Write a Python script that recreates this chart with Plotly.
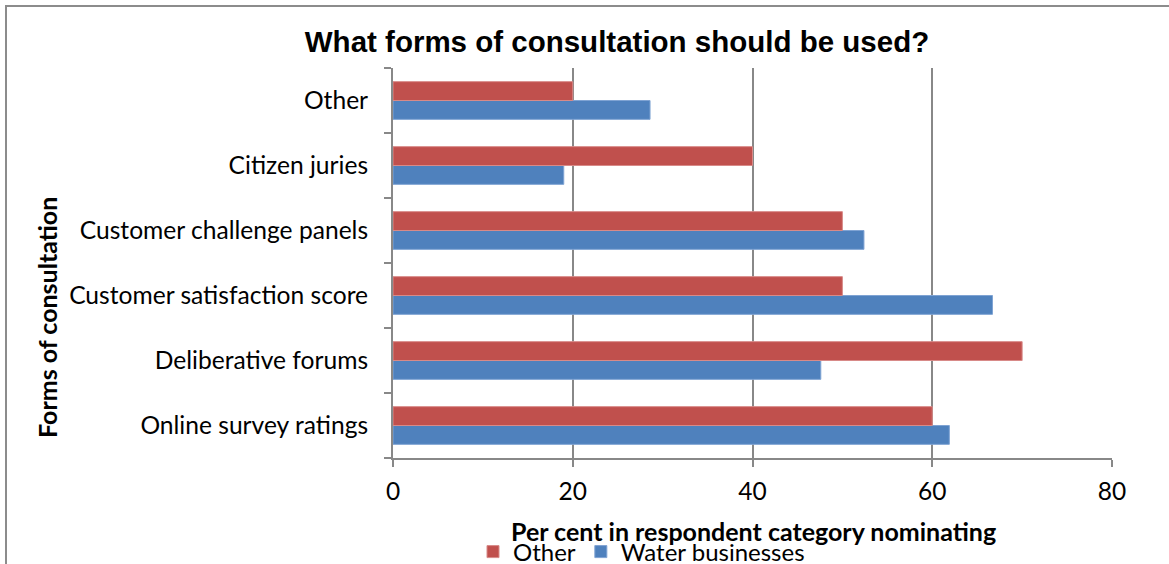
import plotly.graph_objects as go

# Consultation forms, listed bottom to top on the category axis
forms = [
    "Online survey ratings",
    "Deliberative forums",
    "Customer satisfaction score",
    "Customer challenge panels",
    "Citizen juries",
    "Other",
]
water_businesses = [61.9, 47.6, 66.7, 52.4, 19.0, 28.6]
other_respondents = [60, 70, 50, 50, 40, 20]

x_ticks = [0, 20, 40, 60, 80]

W, H = 1169, 564
L, R, T, B = 393, 57, 68, 106
plot_w = W - L - R
plot_h = H - T - B


def px_x(p):
    return (p - L) / plot_w


def px_y(p):
    return (H - B - p) / plot_h


GRID = "#888888"
FONT = "Lato"

fig = go.Figure()
fig.add_trace(go.Bar(
    y=forms, x=water_businesses, orientation="h", name="Water businesses",
    marker=dict(color="#4F81BD", line=dict(color="#7FA3D3", width=1)),
))
fig.add_trace(go.Bar(
    y=forms, x=other_respondents, orientation="h", name="Other",
    marker=dict(color="#C0504D", line=dict(color="#D88A88", width=1)),
))

fig.update_layout(
    width=W, height=H,
    margin=dict(l=L, r=R, t=T, b=B, pad=0, autoexpand=False),
    paper_bgcolor="white", plot_bgcolor="white",
    barmode="group", bargap=0.42, bargroupgap=0,
    font=dict(family=FONT, size=24, color="black"),
    title=dict(
        text="<b>What forms of consultation should be used?</b>",
        x=617 / W, xanchor="center",
        y=1 - 42 / H, yanchor="middle",
        font=dict(family="Liberation Sans", size=29.5, color="black"),
    ),
    xaxis=dict(
        range=[0, 80], tickvals=x_ticks, ticktext=[str(v) for v in x_ticks],
        showgrid=True, gridcolor=GRID, gridwidth=2,
        showline=True, linecolor=GRID, linewidth=2,
        ticks="outside", ticklen=7, tickcolor=GRID, tickwidth=2,
        zeroline=False, tickfont=dict(size=24.5), ticklabelstandoff=4,
        automargin=False, fixedrange=True,
    ),
    yaxis=dict(
        categoryorder="array", categoryarray=forms,
        showline=True, linecolor=GRID, linewidth=2,
        ticks="outside", ticklen=7, tickcolor=GRID, tickwidth=2,
        tickson="boundaries", showgrid=False,
        tickfont=dict(size=24.6), ticklabelstandoff=18,
        automargin=False, fixedrange=True,
    ),
    legend=dict(
        orientation="h", traceorder="reversed",
        x=px_x(473), xanchor="left", y=px_y(552), yanchor="middle",
        font=dict(size=24), itemwidth=30, bgcolor="rgba(0,0,0,0)",
    ),
    showlegend=True,
)

# Axis titles
fig.add_annotation(
    text="<b>Per cent in respondent category nominating</b>",
    xref="paper", yref="paper", x=px_x(753), y=px_y(531),
    xanchor="center", yanchor="middle", showarrow=False,
    font=dict(family=FONT, size=25, color="black"),
)
fig.add_annotation(
    text="<b>Forms of consultation</b>",
    xref="paper", yref="paper", x=px_x(47), y=px_y(318),
    xanchor="center", yanchor="middle", showarrow=False, textangle=-90,
    font=dict(family=FONT, size=25, color="black"),
)

# Chart frame
fig.add_shape(
    type="rect", xref="paper", yref="paper",
    x0=px_x(6), x1=px_x(1200), y0=px_y(600), y1=px_y(6),
    line=dict(color="#8c8c8c", width=2), layer="below",
)

fig.write_html("out.html")
